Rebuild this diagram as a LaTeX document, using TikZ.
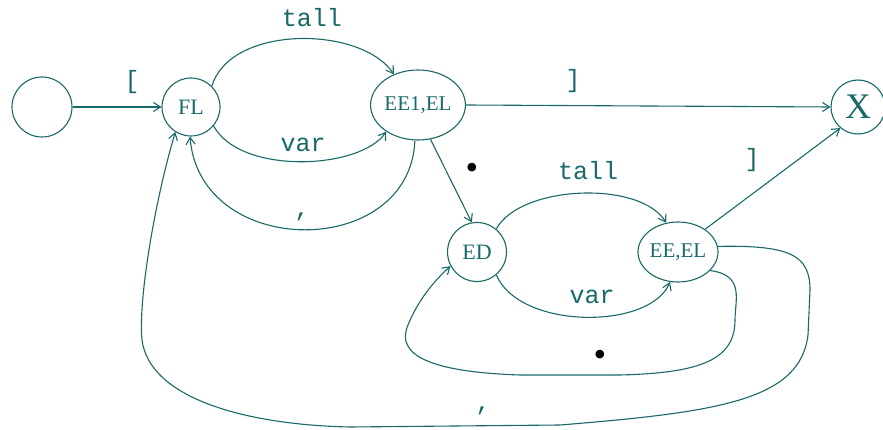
\documentclass[tikz,border=0pt]{standalone}
\usepackage{fontspec}
\setmainfont{Liberation Serif}
\newfontfamily\monofnt{Liberation Mono}
\usetikzlibrary{arrows.meta,shapes.geometric}
\definecolor{ink}{RGB}{25,105,105}
\tikzset{
  state/.style={draw=ink,line width=1.1pt,circle,inner sep=0pt,text=ink,font=\fontsize{22}{22}\selectfont},
  ostate/.style={draw=ink,line width=1.1pt,ellipse,inner sep=0pt,text=ink,font=\fontsize{21}{21}\selectfont},
  edge/.style={draw=ink,line width=1.1pt,-{Straight Barb[length=7pt,width=9pt]}},
  lbl/.style={text=ink,font=\monofnt\fontsize{25}{25}\selectfont,inner sep=0pt,anchor=base},
  blbl/.style={text=ink,font=\monofnt\fontsize{25}{25}\selectfont,inner sep=0pt},
  dotlbl/.style={text=black,font=\fontsize{36}{36}\selectfont,inner sep=0pt}
}
\begin{document}
\begin{tikzpicture}[x=1pt,y=-1pt]
\useasboundingbox (0,0) rectangle (883,430);
\node[state,minimum size=60pt] (S) at (42,107) {};
\node[state,minimum size=58pt] (FL) at (191,107) {FL};
\node[ostate,minimum width=80pt,minimum height=70pt] (E1) at (418,105) {EE1,EL};
\node[state,minimum size=54pt,font=\fontsize{36}{36}\selectfont] (X) at (858,107) {X};
\node[state,minimum size=59pt] (ED) at (477,252) {ED};
\node[ostate,minimum width=70pt,minimum height=60pt] (E2) at (678,252) {EE,EL};

% start -> FL
\draw[edge] (S) -- (FL);
\node[blbl] (l1) at (132,82) {[};
% FL -> E1 tall
\draw[edge] (FL.45) .. controls (230,25) and (360,25) .. (E1.128);
\node[lbl] (l2) at (312,27) {tall};
% FL -> E1 var
\draw[edge] (FL.-40) .. controls (240,175) and (360,170) .. (E1.-140);
\node[lbl] (l3) at (303,152) {var};
% E1 -> FL comma
\draw[edge] (E1.-95) .. controls (410,260) and (200,260) .. (FL.-92);
\node[lbl] (l4) at (302,217) {,};
% E1 -> X
\draw[edge] (E1.east) -- (X.west);
\node[blbl] (l5) at (573,81) {]};
% E1 -> ED
\draw[edge] (E1.-70) -- (ED.100);
\node[dotlbl] (l6) at (472,171) {•};
% ED -> E2 tall
\draw[edge] (ED.50) .. controls (520,185) and (640,180) .. (E2.112);
\node[lbl] (l7) at (588,180) {tall};
% ED -> E2 var
\draw[edge] (ED.-50) .. controls (520,330) and (650,330) .. (E2.-105);
\node[lbl] (l8) at (592,303) {var};
% E2 -> X
\draw[edge] (E2.40) -- (X.-130);
\node[blbl] (l9) at (752,160) {]};
% E2 -> ED bullet loop
\draw[edge] (E2.-30) .. controls (745,275) and (735,300) .. (735,320)
  .. controls (735,360) and (700,373) .. (620,375) -- (520,375)
  .. controls (430,372) and (395,355) .. (408,325)
  .. controls (418,300) and (435,280) .. (ED.-152);
\node[dotlbl] (l10) at (600,358) {•};
% E2 -> FL comma big loop
\draw[edge] (E2.8) .. controls (790,245) and (810,255) .. (810,290) -- (808,335)
  .. controls (800,400) and (720,412) .. (560,425) -- (350,427)
  .. controls (250,425) and (150,400) .. (142,340)
  .. controls (138,300) and (155,200) .. (FL.-122);
\node[lbl] (l11) at (483,410) {,};
\end{tikzpicture}
\end{document}
